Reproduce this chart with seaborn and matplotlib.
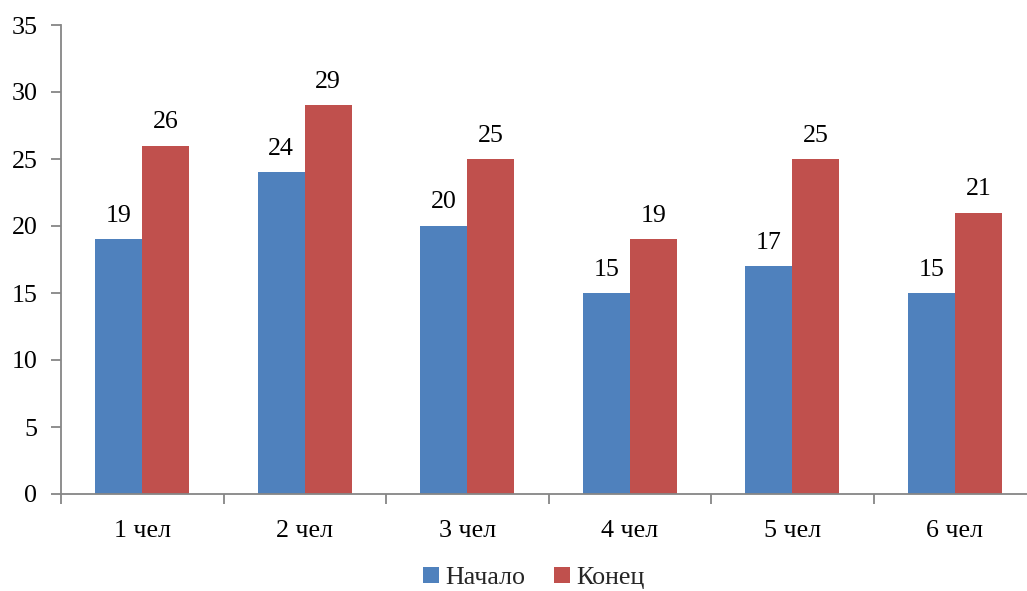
import matplotlib
matplotlib.use("Agg")
import matplotlib.pyplot as plt
import seaborn as sns
import pandas as pd
from matplotlib.patches import Patch

categories = ["1 чел", "2 чел", "3 чел", "4 чел", "5 чел", "6 чел"]
start_values = [19, 24, 20, 15, 17, 15]
end_values = [26, 29, 25, 19, 25, 21]
series_names = ["Начало", "Конец"]
y_ticks = [0, 5, 10, 15, 20, 25, 30, 35]

colors = ["#4F81BD", "#C0504D"]

sns.set_theme(style="white")
plt.rcParams["font.family"] = ["Liberation Serif", "DejaVu Serif"]

FS = 18.7

df = pd.DataFrame({
    "cat": categories * 2,
    "val": start_values + end_values,
    "series": [series_names[0]] * len(categories) + [series_names[1]] * len(categories),
})

fig = plt.figure(figsize=(10.27, 5.91), dpi=100)
ax = fig.add_axes([61 / 1027, 97 / 591, 975 / 1027, 469 / 591])

sns.barplot(data=df, x="cat", y="val", hue="series", palette=colors,
            width=0.58, saturation=1, ax=ax, legend=False,
            edgecolor="none", linewidth=0)

for cont in ax.containers:
    ax.bar_label(cont, padding=9, fontsize=FS, color="black")

ax.set_xlim(-0.5, len(categories) - 0.5)
ax.set_ylim(0, 35)
ax.set_yticks(y_ticks)
ax.set_xlabel("")
ax.set_ylabel("")

spine_color = "#868686"
for side in ["top", "right"]:
    ax.spines[side].set_visible(False)
for side in ["left", "bottom"]:
    ax.spines[side].set_color(spine_color)
    ax.spines[side].set_linewidth(1.3)

ax.tick_params(axis="y", which="major", left=True, length=7, width=1.3,
               color=spine_color, labelsize=FS, labelcolor="black", pad=10)
ax.tick_params(axis="x", which="major", bottom=False, labelsize=FS,
               labelcolor="black", pad=13)
ax.set_xticks(range(len(categories)))
ax.set_xticklabels(categories)

# category separators below the axis
ax.set_xticks([i - 0.5 for i in range(len(categories) + 1)], minor=True)
ax.tick_params(axis="x", which="minor", bottom=True, length=7, width=1.3,
               color=spine_color, direction="out")
ax.tick_params(axis="y", which="minor", left=False)

handles = [Patch(facecolor=c, edgecolor="none") for c in colors]
fig.legend(handles, series_names, loc="center", bbox_to_anchor=(534 / 1027, 13 / 591),
           ncol=2, frameon=False, fontsize=FS, handlelength=0.6, handleheight=0.6,
           handletextpad=0.25, columnspacing=1.1, borderpad=0.1)

fig.savefig("out.png", dpi=100)
